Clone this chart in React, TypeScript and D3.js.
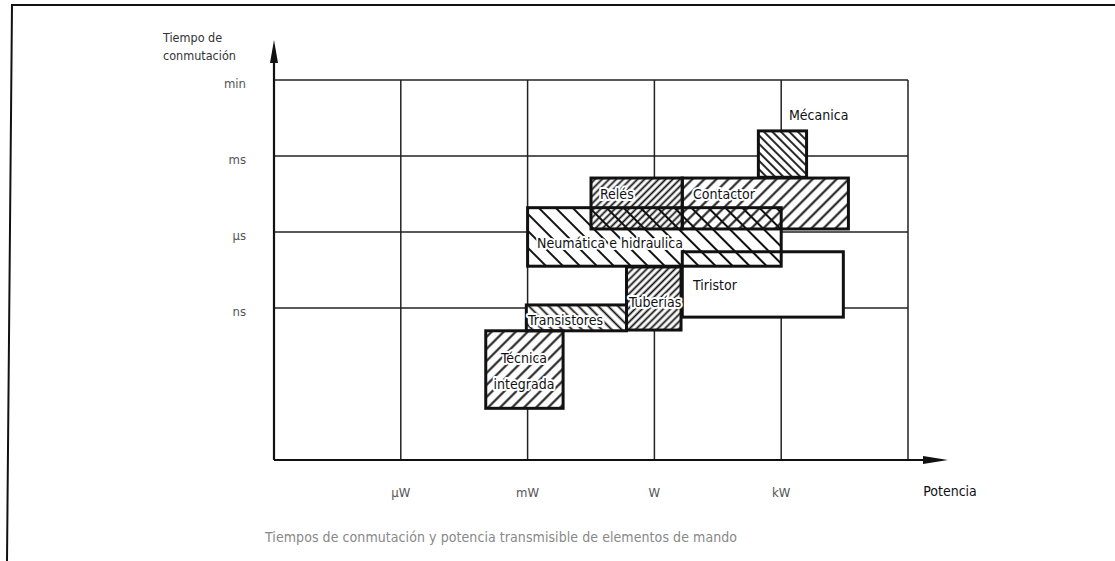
import React from "react";
import { scaleLinear } from "d3";

const width = 1115;
const height = 561;

// axis levels (decades grouped): 0 = origin, then labelled steps
const timeLabels = ["ns", "µs", "ms", "min"];
const timeLevels = [2, 3, 4, 5];
const powerLabels = ["µW", "mW", "W", "kW"];
const powerLevels = [1, 2, 3, 4];
const gridX = [0, 1, 2, 3, 4, 5];
const gridY = [2, 3, 4, 5];

// switching elements: power range (x) and switching time range (y)
const elements = ["Mécanica", "Relés", "Contactor", "Neumática e hidraulica", "Tiristor", "Tuberías", "Transistores", "Técnica integrada"];
const powerFrom = [3.82, 2.5, 3.22, 2.0, 3.22, 2.78, 1.99, 1.67];
const powerTo = [4.2, 3.22, 4.53, 4.0, 4.49, 3.21, 2.78, 2.28];
const timeFrom = [3.72, 3.04, 3.04, 2.55, 1.88, 1.71, 1.7, 0.68];
const timeTo = [4.33, 3.71, 3.71, 3.32, 2.74, 2.54, 2.04, 1.7];
const hatch = ["back", "fwd", "fwd", "back", "none", "fwd", "back", "fwd"];
const hatchGap = [6, 5, 8.5, 12, 0, 5, 7, 8.5];

const x = scaleLinear().domain([0, 5]).range([274, 908]);
const y = scaleLinear().domain([0, 5]).range([460, 80]);

const font = "'Liberation Sans Narrow', 'DejaVu Sans Condensed', 'Roboto', sans-serif";

const App = () => {
  const boxes = elements.map((name, i) => ({
    name,
    x0: x(powerFrom[i]),
    x1: x(powerTo[i]),
    y0: y(timeTo[i]),
    y1: y(timeFrom[i]),
    hatch: hatch[i],
    gap: hatchGap[i],
    i,
  }));

  const halo = { stroke: "#fff", strokeWidth: 4, paintOrder: "stroke" as const, strokeLinejoin: "round" as const };

  return (
    <svg width={width} height={height} style={{ position: "absolute", left: 0, top: 0, background: "#fff" }} fontFamily={font}>
      <defs>
        {boxes.filter((b) => b.hatch !== "none").map((b) => (
          <pattern
            key={b.i}
            id={`hatch${b.i}`}
            patternUnits="userSpaceOnUse"
            width={b.gap}
            height={b.gap}
            patternTransform={`rotate(${b.hatch === "fwd" ? 45 : -45})`}
          >
            <line x1={b.gap / 2} y1={-1} x2={b.gap / 2} y2={b.gap + 1} stroke="#111" strokeWidth={b.gap > 7 ? 2 : 1.8} />
          </pattern>
        ))}
      </defs>

      {/* page frame */}
      <path d="M7,561 L12,5 L1115,5" fill="none" stroke="#111" strokeWidth={2} />

      {/* grid */}
      {gridX.map((v) => (
        <line key={`gx${v}`} x1={x(v)} x2={x(v)} y1={y(5)} y2={y(0)} stroke="#222" strokeWidth={1.5} />
      ))}
      {gridY.map((v) => (
        <line key={`gy${v}`} x1={x(0)} x2={x(5)} y1={y(v)} y2={y(v)} stroke="#222" strokeWidth={1.5} />
      ))}

      {/* axes with arrows */}
      <line x1={x(0)} x2={x(0)} y1={y(0)} y2={60} stroke="#111" strokeWidth={2.2} />
      <path d={`M${x(0)},40 L${x(0) - 4},63 L${x(0) + 4},63 Z`} fill="#111" />
      <line x1={x(0)} x2={925} y1={y(0)} y2={y(0)} stroke="#111" strokeWidth={2.2} />
      <path d={`M948,${y(0)} L923,${y(0) - 4} L923,${y(0) + 4} Z`} fill="#111" />

      {/* boxes: white base, hatching, outlines */}
      {boxes.map((b) => (
        <rect key={`w${b.i}`} x={b.x0} y={b.y0} width={b.x1 - b.x0} height={b.y1 - b.y0} fill="#fff" />
      ))}
      {boxes.filter((b) => b.hatch !== "none").map((b) => (
        <rect key={`h${b.i}`} x={b.x0} y={b.y0} width={b.x1 - b.x0} height={b.y1 - b.y0} fill={`url(#hatch${b.i})`} />
      ))}
      {boxes.map((b) => (
        <rect key={`o${b.i}`} x={b.x0} y={b.y0} width={b.x1 - b.x0} height={b.y1 - b.y0} fill="none" stroke="#111" strokeWidth={3} />
      ))}

      {/* box labels */}
      <g fontSize={14} fill="#111" dominantBaseline="central">
        <text x={789} y={115}>{elements[0]}</text>
        <text x={600} y={194} {...halo}>{elements[1]}</text>
        <text x={693} y={194} {...halo}>{elements[2]}</text>
        <text x={537} y={243} {...halo}>{elements[3]}</text>
        <text x={693} y={285}>{elements[4]}</text>
        <text x={629} y={302} {...halo}>{elements[5]}</text>
        <text x={528} y={320} {...halo}>{elements[6]}</text>
        <text x={524} y={358} textAnchor="middle" {...halo}>Técnica</text>
        <text x={524} y={384} textAnchor="middle" {...halo}>integrada</text>
      </g>

      {/* axis titles */}
      <g fontSize={12.5} fill="#333">
        <text x={163} y={42}>Tiempo de</text>
        <text x={163} y={60}>conmutación</text>
        <text x={950} y={496} textAnchor="middle" fontSize={14} fill="#111">Potencia</text>
      </g>

      {/* tick labels */}
      <g fontSize={13} fill="#555" dominantBaseline="central">
        {timeLevels.map((v, i) => (
          <text key={`ty${v}`} x={246} y={y(v) + 3} textAnchor="end">{timeLabels[i]}</text>
        ))}
        {powerLevels.map((v, i) => (
          <text key={`tx${v}`} x={x(v)} y={492} textAnchor="middle">{powerLabels[i]}</text>
        ))}
      </g>

      {/* caption */}
      <text x={265} y={542} fontSize={14} fill="#888" textLength={472}>
        Tiempos de conmutación y potencia transmisible de elementos de mando
      </text>
    </svg>
  );
};

export default App;
